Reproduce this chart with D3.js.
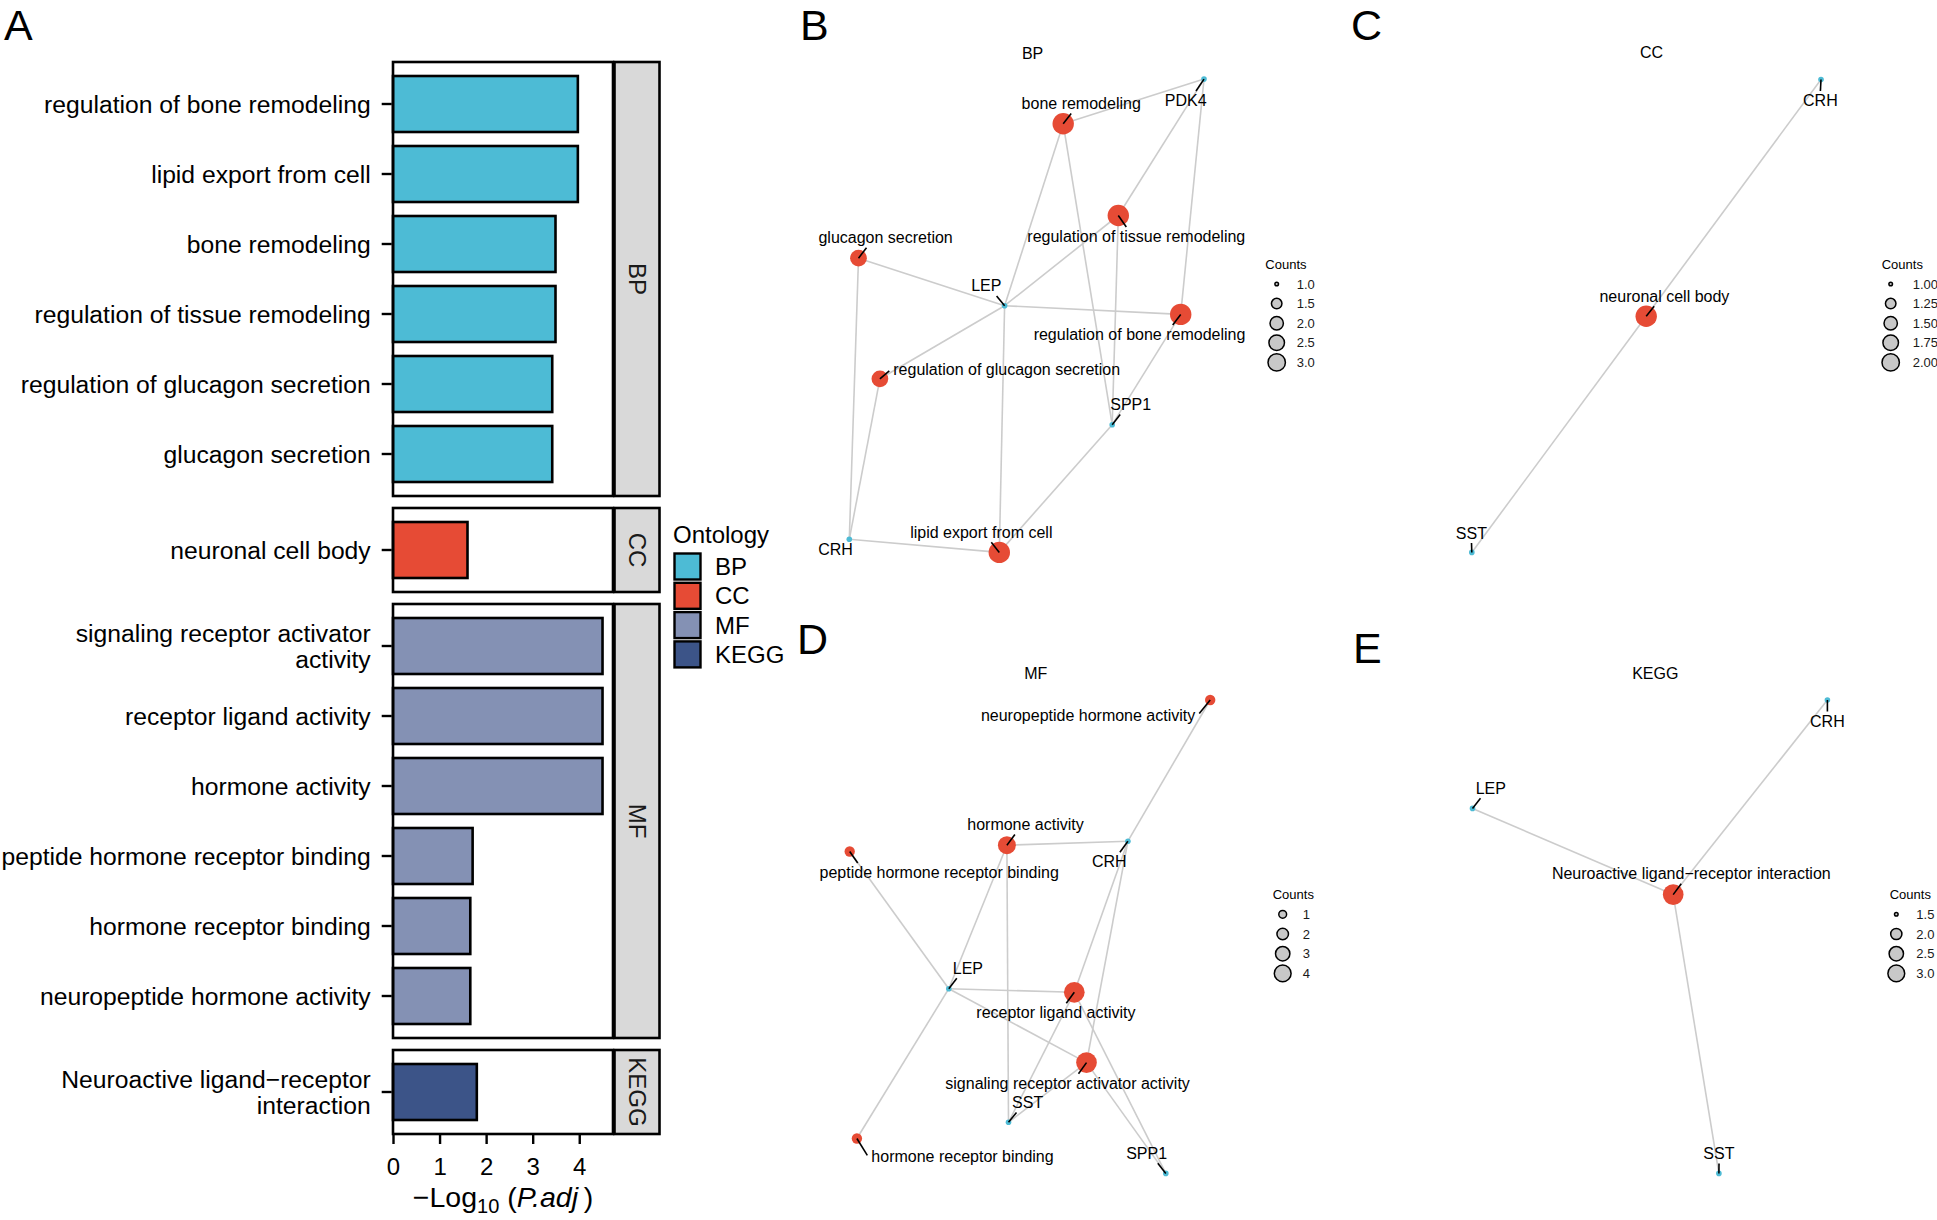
<!DOCTYPE html>
<html><head><meta charset="utf-8">
<script src="https://cdn.jsdelivr.net/npm/d3@7"></script>
<style>
body{margin:0;background:#fff}
svg{display:block;font-family:"Liberation Sans",Arial,Helvetica,sans-serif}
</style>
</head><body>
<svg id="chart" width="1937" height="1220"></svg>
<script>
// ================= DATA =================
// Panel A: enrichment bars
const ontologies = ["BP", "CC", "MF", "KEGG"];
const ontologyColors = ["#4DBBD5", "#E64B35", "#8491B4", "#3C5488"];
const terms = [
  "regulation of bone remodeling", "lipid export from cell", "bone remodeling",
  "regulation of tissue remodeling", "regulation of glucagon secretion", "glucagon secretion",
  "neuronal cell body",
  "signaling receptor activator\nactivity", "receptor ligand activity", "hormone activity",
  "peptide hormone receptor binding", "hormone receptor binding", "neuropeptide hormone activity",
  "Neuroactive ligand\u2212receptor\ninteraction"
];
const termOntology = ["BP","BP","BP","BP","BP","BP","CC","MF","MF","MF","MF","MF","MF","KEGG"];
const termValues = [3.97, 3.97, 3.49, 3.49, 3.42, 3.42, 1.60, 4.50, 4.50, 4.50, 1.71, 1.66, 1.66, 1.80];
const xTicks = [0, 1, 2, 3, 4];

// Panel B (BP network) – layout coordinates
const bpNodes  = ["PDK4","bone remodeling","regulation of tissue remodeling","glucagon secretion","LEP",
                  "regulation of bone remodeling","regulation of glucagon secretion","SPP1","CRH","lipid export from cell"];
const bpCounts = [null, 3, 3, 2, null, 3, 2, null, null, 3];
const bpX      = [404.0, 263.2, 318.3, 58.5, 204.6, 380.7, 79.9, 312.2, 49.3, 199.3];
const bpY      = [19.1, 63.8, 155.5, 198.2, 245.7, 254.4, 318.8, 364.7, 479.3, 492.4];
const bpLabelX = [385.7, 281.2, 336.3, 85.6, 186.3, 339.5, 206.7, 330.7, 35.5, 181.3];
const bpLabelY = [46.0, 49.1, 182.0, 183.2, 231.4, 280.1, 314.9, 350.0, 494.8, 477.8];
const bpEdges  = [["bone remodeling","PDK4"],["bone remodeling","LEP"],["bone remodeling","SPP1"],
  ["regulation of tissue remodeling","PDK4"],["regulation of tissue remodeling","LEP"],["regulation of tissue remodeling","SPP1"],
  ["regulation of bone remodeling","PDK4"],["regulation of bone remodeling","LEP"],["regulation of bone remodeling","SPP1"],
  ["glucagon secretion","LEP"],["glucagon secretion","CRH"],
  ["regulation of glucagon secretion","LEP"],["regulation of glucagon secretion","CRH"],
  ["lipid export from cell","LEP"],["lipid export from cell","CRH"],["lipid export from cell","SPP1"]];
const bpLegendBreaks = [1.0, 1.5, 2.0, 2.5, 3.0];
const bpLegendLabels = ["1.0","1.5","2.0","2.5","3.0"];

// Panel C (CC network)
const ccNodes  = ["CRH","neuronal cell body","SST"];
const ccCounts = [null, 2, null];
const ccX      = [468.0, 293.2, 118.8];
const ccY      = [19.5, 256.3, 492.4];
const ccLabelX = [467.4, 311.4, 118.4];
const ccLabelY = [46.0, 241.7, 478.6];
const ccEdges  = [["neuronal cell body","CRH"],["neuronal cell body","SST"]];
const ccLegendBreaks = [1.00, 1.25, 1.50, 1.75, 2.00];
const ccLegendLabels = ["1.00","1.25","1.50","1.75","2.00"];

// Panel D (MF network)
const mfNodes  = ["neuropeptide hormone activity","hormone activity","CRH","peptide hormone receptor binding","LEP",
                  "receptor ligand activity","signaling receptor activator activity","SST","hormone receptor binding","SPP1"];
const mfCounts = [1, 3, null, 1, null, 4, 4, null, 1, null];
const mfX      = [410.2, 206.9, 327.9, 49.7, 148.8, 274.3, 286.5, 208.5, 56.9, 365.8];
const mfY      = [20.0, 165.2, 161.2, 171.5, 308.7, 312.3, 382.6, 442.3, 458.5, 493.4];
const mfLabelX = [288.1, 225.5, 309.3, 139.2, 167.9, 255.9, 267.6, 227.6, 162.5, 346.6];
const mfLabelY = [40.6, 150.1, 187.3, 198.0, 293.7, 338.3, 408.7, 428.1, 482.3, 478.7];
const mfEdges  = [["neuropeptide hormone activity","CRH"],
  ["hormone activity","CRH"],["hormone activity","LEP"],["hormone activity","SST"],
  ["peptide hormone receptor binding","LEP"],["hormone receptor binding","LEP"],
  ["receptor ligand activity","LEP"],["receptor ligand activity","CRH"],["receptor ligand activity","SST"],["receptor ligand activity","SPP1"],
  ["signaling receptor activator activity","LEP"],["signaling receptor activator activity","CRH"],
  ["signaling receptor activator activity","SST"],["signaling receptor activator activity","SPP1"]];
const mfLegendBreaks = [1, 2, 3, 4];
const mfLegendLabels = ["1","2","3","4"];

// Panel E (KEGG network)
const keggNodes  = ["CRH","LEP","Neuroactive ligand\u2212receptor interaction","SST"];
const keggCounts = [null, null, 3, null];
const keggX      = [474.4, 119.5, 320.2, 365.9];
const keggY      = [20.0, 128.4, 214.6, 493.4];
const keggLabelX = [474.4, 137.8, 338.3, 365.9];
const keggLabelY = [46.5, 113.8, 199.2, 479.1];
const keggEdges  = [["Neuroactive ligand\u2212receptor interaction","CRH"],
  ["Neuroactive ligand\u2212receptor interaction","LEP"],["Neuroactive ligand\u2212receptor interaction","SST"]];
const keggLegendBreaks = [1.5, 2.0, 2.5, 3.0];
const keggLegendLabels = ["1.5","2.0","2.5","3.0"];

// ================= DRAW =================
const svg = d3.select("#chart");
const black = "#000";

// ---------- Panel A ----------
const A = {left: 393, right: 613, stripW: 45, top: 62, unit: 70, gap: 12, fs: 24.7};
const x = d3.scaleLinear().domain([0, d3.max(termValues) * 1.05]).range([A.left, A.right]);
let yCursor = A.top;
ontologies.forEach((ont, oi) => {
  const idx = terms.map((t, i) => i).filter(i => termOntology[i] === ont);
  const cats = idx.map(i => terms[i]);
  const h = A.unit * (cats.length + 0.2);
  const yb = d3.scaleBand().domain(cats).range([yCursor, yCursor + h]).paddingInner(0.2).paddingOuter(0.2);
  const g = svg.append("g");
  g.append("rect").attr("x", A.left).attr("y", yCursor).attr("width", A.right - A.left).attr("height", h).attr("fill", "#fff");
  g.selectAll("rect.bar").data(idx).join("rect").attr("class", "bar")
    .attr("x", x(0)).attr("y", i => yb(terms[i]))
    .attr("width", i => x(termValues[i]) - x(0)).attr("height", yb.bandwidth())
    .attr("fill", ontologyColors[oi]).attr("stroke", black).attr("stroke-width", 2.6);
  g.append("rect").attr("x", A.left).attr("y", yCursor).attr("width", A.right - A.left).attr("height", h)
    .attr("fill", "none").attr("stroke", black).attr("stroke-width", 2.6);
  // strip
  g.append("rect").attr("x", A.right + 1.5).attr("y", yCursor).attr("width", A.stripW).attr("height", h)
    .attr("fill", "#d9d9d9").attr("stroke", black).attr("stroke-width", 2.6);
  g.append("text").attr("transform", `translate(${A.right + 1.5 + A.stripW / 2},${yCursor + h / 2}) rotate(90)`)
    .attr("text-anchor", "middle").attr("dy", "0.35em").attr("font-size", 24).attr("fill", "#1a1a1a").text(ont);
  // y axis
  const ga = g.append("g").attr("transform", `translate(${A.left - 1.3},0)`)
    .call(d3.axisLeft(yb).tickSize(10).tickPadding(11));
  ga.attr("font-size", null).attr("font-family", null);
  ga.select(".domain").remove();
  ga.selectAll(".tick line").attr("stroke", black).attr("stroke-width", 2.4);
  ga.selectAll(".tick text").each(function (d) {
    const t = d3.select(this);
    const lines = d.split("\n");
    t.text(null).attr("dy", null).attr("font-size", A.fs).attr("fill", black);
    lines.forEach((ln, li) => {
      t.append("tspan").attr("x", -21).attr("y", (li - (lines.length - 1) / 2) * 26).attr("dy", "0.35em").text(ln);
    });
  });
  yCursor += h + A.gap;
});
const axisY = yCursor - A.gap;
const gx = svg.append("g").attr("transform", `translate(0,${axisY})`)
  .call(d3.axisBottom(x).tickValues(xTicks).tickSize(10).tickPadding(14).tickFormat(d3.format("d")));
gx.attr("font-size", null).attr("font-family", null);
gx.select(".domain").remove();
gx.selectAll(".tick line").attr("stroke", black).attr("stroke-width", 2.4);
gx.selectAll(".tick text").attr("font-size", 24).attr("fill", black);
// axis title
const xt = svg.append("text").attr("x", (A.left + A.right) / 2).attr("y", 1207).attr("text-anchor", "middle")
  .attr("font-size", 28.5).attr("fill", black);
xt.append("tspan").text("\u2212Log");
xt.append("tspan").attr("font-size", 20).attr("dy", 6).text("10");
xt.append("tspan").attr("dy", -6).text(" (");
xt.append("tspan").attr("font-style", "italic").text("P.adj");
xt.append("tspan").text("\u2009)");

// Ontology legend
const leg = svg.append("g");
leg.append("text").attr("x", 673).attr("y", 543).attr("font-size", 24).attr("fill", black).text("Ontology");
ontologies.forEach((o, i) => {
  const ky = 553.5 + i * 29.3;
  leg.append("rect").attr("x", 674.5).attr("y", ky).attr("width", 26).attr("height", 26)
    .attr("fill", ontologyColors[i]).attr("stroke", black).attr("stroke-width", 2.4);
  leg.append("text").attr("x", 715).attr("y", ky + 13).attr("dy", "0.35em").attr("font-size", 24).attr("fill", black).text(o);
});

// ---------- Network panels ----------
function drawNetwork(cfg) {
  const g = svg.append("g");
  const sx = d3.scaleLinear().domain([0, 500]).range([cfg.ox, cfg.ox + 500]);
  const sy = d3.scaleLinear().domain([0, 500]).range([cfg.oy, cfg.oy + 500]);
  const size = d3.scaleSqrt().domain([0, cfg.hi - cfg.lo]).range([cfg.dmin, cfg.dmax]);
  const legendDiam = c => size(c - cfg.lo);
  const nodeDiam = c => (c == null ? 5.6 : legendDiam(c) * 1.15);
  const pos = {};
  cfg.nodes.forEach((n, i) => pos[n] = [sx(cfg.x[i]), sy(cfg.y[i])]);
  // title
  g.append("text").attr("x", cfg.titleX).attr("y", cfg.titleY).attr("text-anchor", "middle")
    .attr("font-size", 16).attr("fill", black).text(cfg.title);
  // edges
  g.selectAll("line.edge").data(cfg.edges).join("line").attr("class", "edge")
    .attr("x1", e => pos[e[0]][0]).attr("y1", e => pos[e[0]][1])
    .attr("x2", e => pos[e[1]][0]).attr("y2", e => pos[e[1]][1])
    .attr("stroke", "#cccccc").attr("stroke-width", 1.6);
  // nodes
  g.selectAll("circle.node").data(cfg.nodes).join("circle").attr("class", "node")
    .attr("cx", n => pos[n][0]).attr("cy", n => pos[n][1])
    .attr("r", (n, i) => nodeDiam(cfg.counts[i]) / 2)
    .attr("fill", (n, i) => cfg.counts[i] == null ? "#4DBBD5" : "#E64B35");
  // labels with short leader segments (repel-style connection to the label box)
  const segG = g.append("g");
  const labG = g.append("g");
  cfg.nodes.forEach((n, i) => {
    const t = labG.append("text").attr("x", sx(cfg.lx[i])).attr("y", sy(cfg.ly[i]))
      .attr("text-anchor", "middle").attr("font-size", 16).attr("fill", black).text(n);
    const bb = t.node().getBBox();
    const x0 = bb.x - 4, x1 = bb.x + bb.width + 4, y0 = bb.y - 1, y1 = bb.y + bb.height + 1.5;
    const P = pos[n];
    const C = [(x0 + x1) / 2, (y0 + y1) / 2];
    const inX = P[0] >= x0 && P[0] <= x1, inY = P[1] >= y0 && P[1] <= y1;
    if (inX && inY) return;
    let ex = Math.max(x0, Math.min(x1, P[0]));
    let ey = Math.max(y0, Math.min(y1, P[1]));
    if (Math.hypot(ex - P[0], ey - P[1]) < 3) return;   // label touches the point: no segment
    const shift = 8;
    if (inX) {            // above / below: slide along the horizontal edge toward the centre
      ex += Math.sign(C[0] - ex) * Math.min(shift, Math.abs(C[0] - ex));
    } else {              // left / right or corner: slide along the vertical edge toward the centre
      ey += Math.sign(C[1] - ey) * Math.min(shift, Math.abs(C[1] - ey));
    }
    segG.append("line").attr("x1", P[0]).attr("y1", P[1]).attr("x2", ex).attr("y2", ey)
      .attr("stroke", black).attr("stroke-width", 1.6);
  });
  // size legend
  const lg = g.append("g");
  lg.append("text").attr("x", cfg.leg.titleX).attr("y", cfg.leg.titleY).attr("font-size", 13).attr("fill", black).text("Counts");
  cfg.breaks.forEach((b, i) => {
    const cy = cfg.leg.row0 + i * cfg.leg.step;
    lg.append("circle").attr("cx", cfg.leg.circleX).attr("cy", cy).attr("r", Math.max(1.3, legendDiam(b) / 2 - 0.6))
      .attr("fill", "#c8c8c8").attr("stroke", black).attr("stroke-width", 1.5);
    lg.append("text").attr("x", cfg.leg.labelX).attr("y", cy).attr("dy", "0.36em").attr("font-size", 13)
      .attr("fill", "#1a1a1a").text(cfg.breakLabels[i]);
  });
}

drawNetwork({title: "BP", titleX: 1032.6, titleY: 58.5, ox: 800, oy: 60,
  nodes: bpNodes, counts: bpCounts, x: bpX, y: bpY, lx: bpLabelX, ly: bpLabelY, edges: bpEdges,
  lo: 1, hi: 3, dmin: 4.8, dmax: 18.6, breaks: bpLegendBreaks, breakLabels: bpLegendLabels,
  leg: {titleX: 1265.3, titleY: 268.5, circleX: 1276.7, labelX: 1296.7, row0: 284, step: 19.6}});
drawNetwork({title: "CC", titleX: 1651.5, titleY: 57.5, ox: 1353, oy: 60,
  nodes: ccNodes, counts: ccCounts, x: ccX, y: ccY, lx: ccLabelX, ly: ccLabelY, edges: ccEdges,
  lo: 1, hi: 2, dmin: 4.8, dmax: 18.6, breaks: ccLegendBreaks, breakLabels: ccLegendLabels,
  leg: {titleX: 1881.7, titleY: 268.5, circleX: 1890.7, labelX: 1912.7, row0: 284, step: 19.6}});
drawNetwork({title: "MF", titleX: 1035.8, titleY: 679, ox: 800, oy: 680,
  nodes: mfNodes, counts: mfCounts, x: mfX, y: mfY, lx: mfLabelX, ly: mfLabelY, edges: mfEdges,
  lo: 0, hi: 4, dmin: 0, dmax: 18, breaks: mfLegendBreaks, breakLabels: mfLegendLabels,
  leg: {titleX: 1272.7, titleY: 898.5, circleX: 1282.7, labelX: 1302.7, row0: 914.3, step: 19.7}});
drawNetwork({title: "KEGG", titleX: 1655.3, titleY: 679, ox: 1353, oy: 680,
  nodes: keggNodes, counts: keggCounts, x: keggX, y: keggY, lx: keggLabelX, ly: keggLabelY, edges: keggEdges,
  lo: 1.5, hi: 3, dmin: 4.8, dmax: 18, breaks: keggLegendBreaks, breakLabels: keggLegendLabels,
  leg: {titleX: 1889.7, titleY: 898.5, circleX: 1896.3, labelX: 1916.3, row0: 914.3, step: 19.7}});

// Panel letters
const letters = [["A", 4, 39.5], ["B", 800, 39.5], ["C", 1351, 39.5], ["D", 797, 654], ["E", 1353, 663]];
svg.selectAll("text.panel-letter").data(letters).join("text").attr("class", "panel-letter")
  .attr("x", d => d[1]).attr("y", d => d[2]).attr("font-size", 43).attr("fill", black).text(d => d[0]);
</script>
</body></html>
